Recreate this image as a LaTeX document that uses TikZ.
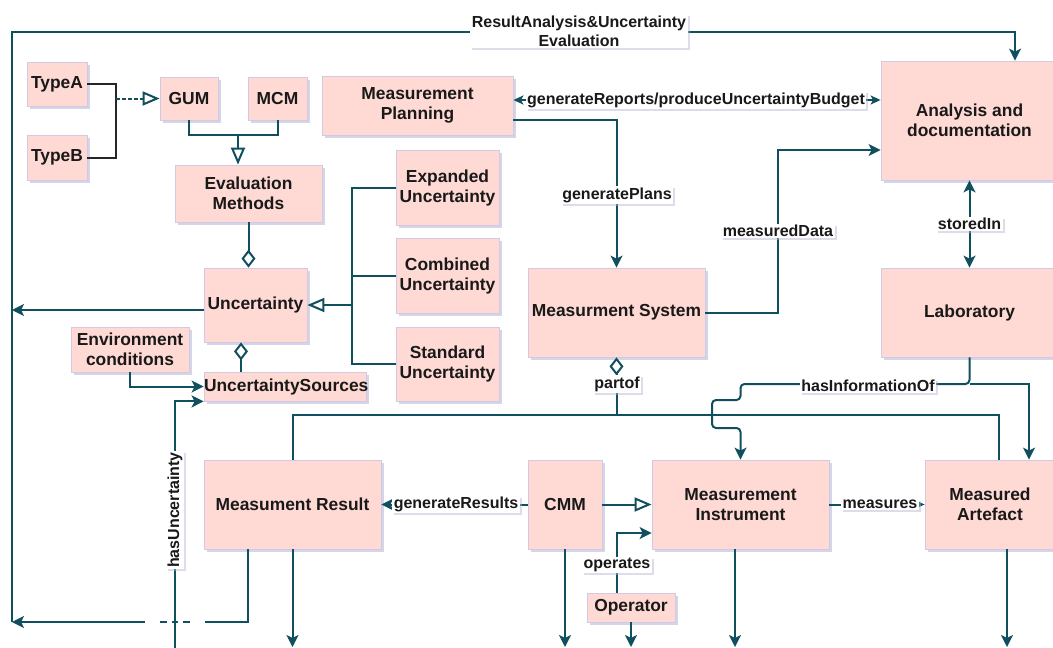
\documentclass[tikz,border=0pt]{standalone}
\usepackage{fontspec}
\setmainfont{Liberation Sans}
\usetikzlibrary{arrows.meta,shadows,calc}
\definecolor{boxfill}{RGB}{255,218,212}
\definecolor{boxdraw}{RGB}{212,200,226}
\definecolor{edge}{RGB}{16,80,94}
\definecolor{shadowc}{RGB}{175,180,210}
\tikzset{
  box/.style={draw=boxdraw, fill=boxfill, line width=0.8pt, align=center,
    font=\bfseries\fontsize{17.4}{20}\selectfont, inner sep=0pt, text=black!90,
    drop shadow={shadow xshift=3pt, shadow yshift=-3pt, fill=shadowc, opacity=.55}},
  lbl/.style={fill=white, inner sep=1.5pt, align=center, text=black!90,
    font=\bfseries\fontsize{16}{19}\selectfont,
    drop shadow={shadow xshift=2pt, shadow yshift=-2pt, fill=shadowc, opacity=.45}},
  conn/.style={draw=edge, line width=2pt},
  blk/.style={draw=black!85, line width=2pt},
  fa/.style={-{Stealth[length=12pt, width=12pt, inset=3pt]}},
  fab/.style={{Stealth[length=10pt, width=9pt, inset=2.5pt]}-{Stealth[length=10pt, width=9pt, inset=2.5pt]}},
  fas/.style={-{Stealth[length=9pt, width=8pt, inset=2pt]}},
  opentri/.style={-{Triangle[open, length=17pt, width=14pt, fill=white]}},
  diastart/.style={{Diamond[open, length=18pt, width=14pt, fill=white]}-},
}
\begin{document}
\begin{tikzpicture}[x=1pt, y=-1pt]
\useasboundingbox (0,0) rectangle (1053,648);
\clip (0,0) rectangle (1053,648);
% nodes
\node[box, minimum width=60pt, minimum height=44pt] (typeA) at (57,84) {TypeA};
\node[box, minimum width=60pt, minimum height=45pt] (typeB) at (57,157.5) {TypeB};
\node[box, minimum width=58pt, minimum height=43pt] (gum) at (189,98.5) {GUM};
\node[box, minimum width=59pt, minimum height=43pt] (mcm) at (277.5,98.5) {MCM};
\node[box, minimum width=191pt, minimum height=59pt] (plan) at (417.5,105.5) {Measurement\\Planning};
\node[box, minimum width=177pt, minimum height=119pt] (anal) at (969.5,120.5) {Analysis and\\documentation};
\node[box, minimum width=147pt, minimum height=57pt] (eval) at (248.5,193.5) {Evaluation\\Methods};
\node[box, minimum width=103pt, minimum height=75pt] (exp) at (447.5,187.5) {Expanded\\Uncertainty};
\node[box, minimum width=103pt, minimum height=75pt] (comb) at (447.5,275.5) {Combined\\Uncertainty};
\node[box, minimum width=103pt, minimum height=74pt] (std) at (447.5,364) {Standard\\Uncertainty};
\node[box, minimum width=103pt, minimum height=74pt] (unc) at (255.5,305) {Uncertainty};
\node[box, minimum width=118pt, minimum height=45pt] (env) at (130,349.5) {Environment\\conditions};
\node[box, minimum width=162pt, minimum height=29pt, text width=162pt] (usrc) at (285,386.5) {UncertaintySources};
\node[box, minimum width=177pt, minimum height=89pt] (msys) at (616.5,312.5) {Measurment System};
\node[box, minimum width=177pt, minimum height=89pt] (lab) at (969.5,312.5) {Laboratory};
\node[box, minimum width=177pt, minimum height=89pt] (mres) at (292.5,504.5) {Measument Result};
\node[box, minimum width=74pt, minimum height=89pt] (cmm) at (565,504.5) {CMM};
\node[box, minimum width=177pt, minimum height=89pt] (minst) at (740.5,504.5) {Measurement\\Instrument};
\node[box, minimum width=130pt, minimum height=89pt] (mart) at (990,504.5) {Measured\\Artefact};
\node[box, minimum width=88pt, minimum height=29pt] (oper) at (631,607.5) {Operator};

% helper coordinates
\coordinate (tl) at (12,32);
\coordinate (tr) at (1015,32);
\coordinate (bl) at (12,622);
\coordinate (bot) at (0,647);
\coordinate (jab) at (116,98.5);
\coordinate (jgm) at (238,135);
\coordinate (jx) at (352,305);
\coordinate (md) at (778,150);
\coordinate (bus) at (0,415);
\coordinate (hi) at (969.5,384);
\coordinate (hu) at (175,650);
\coordinate (uw) at ($(unc.west)+(0,5)$);
\coordinate (mrs) at (248,549);
\coordinate (x241) at (241,0);
\coordinate (x617) at (617,0);
\coordinate (pe1) at ($(plan.east)+(0,-5.5)$);
\coordinate (pe2) at ($(plan.east)+(0,14.5)$);
\coordinate (mi1) at ($(minst.west)+(0,28.5)$);
\coordinate (mib) at ($(minst.south)+(-5.5,0)$);
\coordinate (mab) at ($(mart.south)+(17,0)$);
\coordinate (man) at ($(mart.north)+(39,0)$);

% big frame: merged line to Analysis
\draw[conn, fa] (bl) -- (tl) -- (tr) -- (tr |- anal.north);
\node[lbl] (ra) at (579,31) {ResultAnalysis\&Uncertainty\\Evaluation};
\draw[conn, fa] (uw) -- (uw -| bl);
\draw[conn, fa, dash pattern=on 116pt off 15pt on 7pt off 5pt on 6pt off 5pt on 7pt off 15pt on 400pt]
  (mrs |- mres.south) |- (bl);

% TypeA/TypeB -> GUM
\draw[blk] (typeA.east) -| (jab);
\draw[blk] (typeB.east) -| (jab);
\draw[conn, opentri, dash pattern=on 4pt off 2pt] (jab) -- (gum.west);

% GUM/MCM -> Evaluation
\draw[conn] (gum.south) |- (jgm);
\draw[conn] (mcm.south) |- (jgm);
\draw[conn, opentri] (jgm) -- (jgm |- eval.north);

% Evaluation -> Uncertainty (aggregation)
\draw[conn, diastart] (eval.south |- unc.north) -- (eval.south);

% Expanded/Combined/Standard -> Uncertainty
\draw[conn] (exp.west) -| (jx);
\draw[conn] (comb.west) -| (jx);
\draw[conn] (std.west) -| (jx);
\draw[conn, opentri] (jx) -- (unc.east);

% Uncertainty -> UncertaintySources
\draw[conn, diastart] (x241 |- unc.south) -- (x241 |- usrc.north);

% Environment -> UncertaintySources
\draw[conn, fa] (env.south) |- (usrc.west);

% hasUncertainty
\draw[conn, fa] (hu) |- (usrc.south west);
\node[lbl, rotate=90] (hul) at (175,510) {hasUncertainty};

% Planning <-> Analysis
\draw[conn, fab] (pe1) -- (pe1 -| anal.west);
\node[lbl] (grl) at (696,100) {generateReports/produceUncertaintyBudget};

% Planning -> System
\draw[conn, fa] (pe2) -| (msys.north);
\node[lbl] (gpl) at (617,195) {generatePlans};

% System -> Analysis
\draw[conn, fa] (msys.east) -| (md) -- (md -| anal.west);
\node[lbl] (mdl) at (778,231) {measuredData};

% Analysis <-> Laboratory
\draw[conn, {Stealth[length=12pt, width=12pt, inset=3pt]}-{Stealth[length=12pt, width=12pt, inset=3pt]}] (anal.south) -- (lab.north);
\node[lbl] (sil) at (969.5,224) {storedIn};

% partof bus
\draw[conn] (mres.north) |- (999,415) -- (999,460);
\draw[conn, diastart] (msys.south) -- (msys.south |- bus);
\node[lbl] (pol) at (617,384) {partof};

% hasInformationOf
\draw[conn, fa, rounded corners=4pt] (lab.south) -- (hi) -- (740.5,384) -- (740.5,400) -- (712,400) -- (712,428) -- (740.5,428) -- (minst.north);
\draw[conn, fa] (hi) -| (man);
\node[lbl] (hil) at (868,386) {hasInformationOf};

% CMM relations
\draw[conn, fa] (cmm.west) -- (mres.east);
\node[lbl] (grs) at (456,504.5) {generateResults};
\draw[conn, opentri] (cmm.east) -- (minst.west);
\draw[conn, fa] (x617 |- oper.north) |- (mi1);
\node[lbl] (opl) at (617,565) {operates};
\draw[conn, fas] (minst.east) -- (mart.west);
\node[lbl] (mel) at (880,504.5) {measures};

% downward arrows
\draw[conn, fa] (mres.south) -- (mres.south |- bot);
\draw[conn, fa] (cmm.south) -- (cmm.south |- bot);
\draw[conn, fa] (oper.south) -- (oper.south |- bot);
\draw[conn, fa] (mib) -- (mib |- bot);
\draw[conn, fa] (mab) -- (mab |- bot);
\end{tikzpicture}
\end{document}
